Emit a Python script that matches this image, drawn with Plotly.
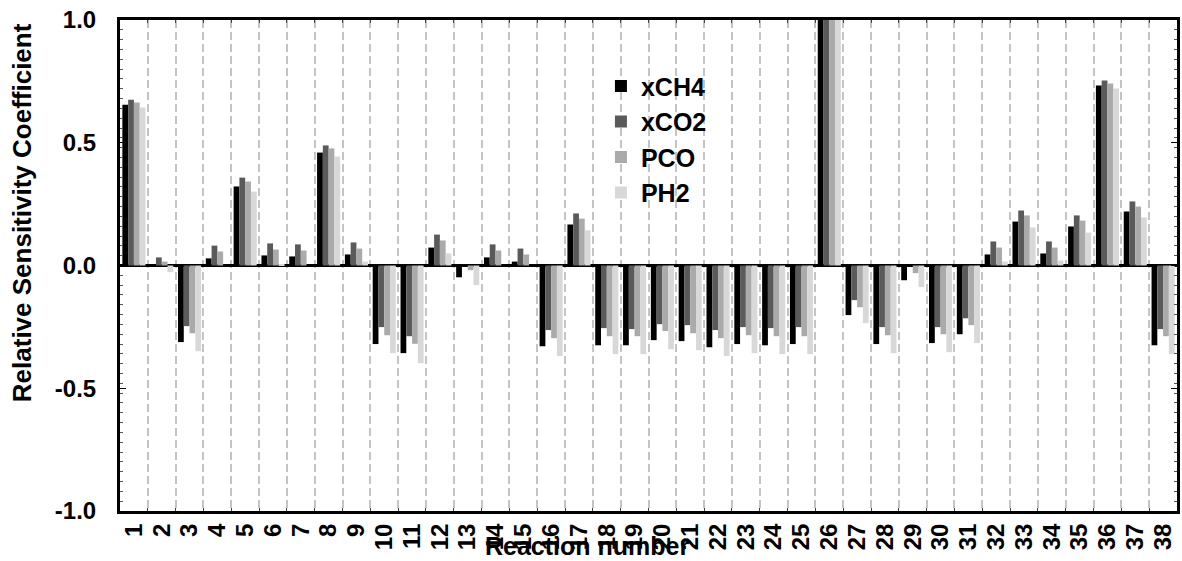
import plotly.graph_objects as go

# Reaction indices (category axis)
reactions = ["1", "2", "3", "4", "5", "6", "7", "8", "9", "10",
             "11", "12", "13", "14", "15", "16", "17", "18", "19", "20",
             "21", "22", "23", "24", "25", "26", "27", "28", "29", "30",
             "31", "32", "33", "34", "35", "36", "37", "38"]

# Normalised sensitivity coefficients per output quantity
xCH4 = [0.655, 0.0, -0.312, 0.029, 0.322, 0.041, 0.037, 0.460, 0.045, -0.320,
        -0.357, 0.073, -0.048, 0.033, 0.016, -0.329, 0.167, -0.325, -0.325, -0.304,
        -0.308, -0.333, -0.320, -0.325, -0.320, 1.0, -0.202, -0.320, -0.060, -0.316,
        -0.280, 0.045, 0.179, 0.049, 0.159, 0.733, 0.220, -0.325]
xCO2 = [0.675, 0.033, -0.247, 0.081, 0.358, 0.090, 0.086, 0.489, 0.094, -0.251,
        -0.288, 0.126, 0.0, 0.086, 0.069, -0.263, 0.212, -0.255, -0.259, -0.239,
        -0.243, -0.263, -0.251, -0.255, -0.251, 1.0, -0.141, -0.251, 0.0, -0.251,
        -0.215, 0.098, 0.224, 0.098, 0.204, 0.754, 0.261, -0.259]
PCO = [0.664, 0.016, -0.276, 0.057, 0.342, 0.065, 0.061, 0.477, 0.069, -0.284,
       -0.319, 0.102, -0.019, 0.061, 0.045, -0.296, 0.191, -0.288, -0.288, -0.267,
       -0.276, -0.296, -0.284, -0.288, -0.288, 1.0, -0.170, -0.284, -0.031, -0.280,
       -0.243, 0.073, 0.204, 0.073, 0.183, 0.741, 0.240, -0.288]
PH2 = [0.644, -0.027, -0.349, 0.0, 0.301, 0.006, 0.0, 0.444, 0.016, -0.357,
       -0.398, 0.049, -0.080, 0.0, 0.0, -0.369, 0.143, -0.361, -0.361, -0.341,
       -0.345, -0.369, -0.357, -0.361, -0.361, 1.0, -0.235, -0.357, -0.088, -0.353,
       -0.316, 0.016, 0.155, 0.020, 0.134, 0.721, 0.196, -0.361]

series_names = ["xCH4", "xCO2", "PCO", "PH2"]
series_values = [xCH4, xCO2, PCO, PH2]
series_colors = ["#000000", "#5a5a5a", "#aaaaaa", "#d8d8d8"]

y_tick_values = [-1.0, -0.5, 0.0, 0.5, 1.0]
y_tick_labels = ["-1.0", "-0.5", "0.0", "0.5", "1.0"]

FONT = "Liberation Sans, Arial, sans-serif"

fig = go.Figure()
for name, vals, col in zip(series_names, series_values, series_colors):
    fig.add_trace(go.Bar(x=reactions, y=vals, name=name,
                         marker=dict(color=col, line=dict(width=0))))

fig.update_layout(
    width=1182, height=561,
    margin=dict(l=120, r=2, t=20, b=50),
    paper_bgcolor="white", plot_bgcolor="white",
    barmode="group", bargap=0.17, bargroupgap=0,
    font=dict(family=FONT, color="black", weight="bold"),
    showlegend=True,
    legend=dict(x=0.455, y=0.912, xanchor="left", yanchor="top",
                bgcolor="rgba(0,0,0,0)", borderwidth=0,
                font=dict(family=FONT, size=25, color="black", weight="bold"),
                itemwidth=30, tracegroupgap=0),
)

fig.update_xaxes(
    type="category", tickson="boundaries",
    tickmode="array", tickvals=reactions, ticktext=reactions,
    showgrid=True, gridcolor="#c4c4c4", gridwidth=2, griddash="8px,4px",
    showline=True, linecolor="black", linewidth=3, mirror="allticks",
    ticks="inside", ticklen=3, tickcolor="#444444",
    tickangle=-90, tickfont=dict(family=FONT, size=24, color="black", weight="bold"),
    range=[-0.5, 37.5],
)

fig.update_yaxes(
    range=[-1.0, 1.0],
    tickvals=y_tick_values, ticktext=y_tick_labels,
    tickfont=dict(family=FONT, size=24, color="black", weight="bold"),
    ticklabelstandoff=16,
    showgrid=False,
    zeroline=True, zerolinecolor="black", zerolinewidth=3,
    showline=True, linecolor="black", linewidth=3, mirror="allticks",
    ticks="inside", ticklen=6, tickcolor="black",
    minor=dict(ticks="inside", ticklen=3, tickcolor="#555555", dtick=0.04, showgrid=False),
)

# Axis titles
fig.add_annotation(text="Relative Sensitivity Coefficient", xref="paper", yref="paper",
                   x=-0.0925, y=0.607, textangle=-90, showarrow=False,
                   font=dict(family=FONT, size=26, color="black", weight="bold"),
                   xanchor="center", yanchor="middle")
fig.add_annotation(text="Reaction number", xref="paper", yref="paper",
                   x=0.442, y=-0.072, showarrow=False,
                   font=dict(family=FONT, size=25, color="black", weight="bold"),
                   xanchor="center", yanchor="middle")

fig.write_html("out.html")
